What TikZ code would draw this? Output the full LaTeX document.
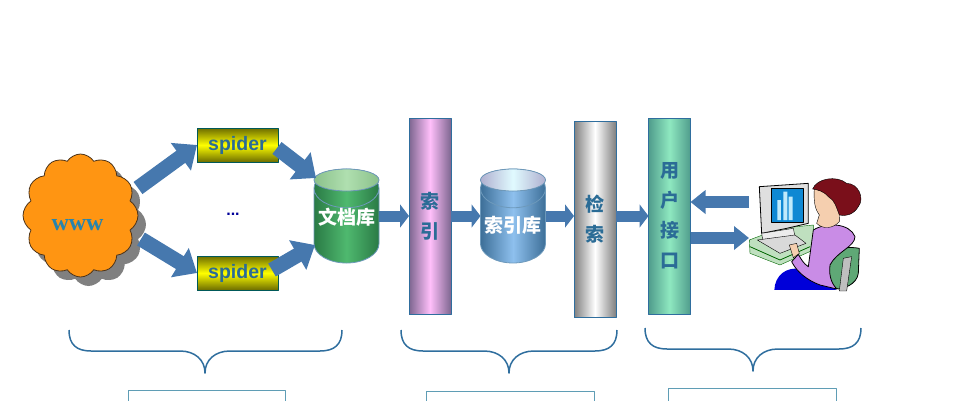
\documentclass[tikz,border=0pt]{standalone}
\usepackage{fontspec}
\newfontfamily\cjk{Noto Sans CJK SC}
\setsansfont{Liberation Sans}
\setmainfont{Liberation Serif}
\usetikzlibrary{arrows.meta,shapes.geometric,shapes.symbols,shadows}
\definecolor{arrowblue}{HTML}{4678AE}
\definecolor{edgeblue}{HTML}{2F6E9E}
\definecolor{labelblue}{HTML}{2B6C96}
\definecolor{boxblue}{HTML}{5F9DB5}
\definecolor{cloudorange}{HTML}{FF9512}
\definecolor{skin}{HTML}{F5CFAF}
\definecolor{blouse}{HTML}{C98CE6}
\definecolor{hair}{HTML}{7A0F1A}
\definecolor{chair}{HTML}{5FA876}
\definecolor{deskgreen}{HTML}{BFE0BF}
\definecolor{docedge}{HTML}{2A7A45}
\definecolor{docmid}{HTML}{4FB96F}
\definecolor{dbedge}{HTML}{3D6F98}
\definecolor{dbmid}{HTML}{8EC0EE}
\definecolor{indexedge}{HTML}{7D6690}
\definecolor{indexmid}{HTML}{FFBFFA}
\definecolor{uiedge}{HTML}{4F9C8C}
\definecolor{uimid}{HTML}{8FE8C0}
\tikzset{
    blockarrow/.style={draw=arrowblue,line width=11pt,-{Triangle[length=9pt,width=23pt]}},
    userarrow/.style={draw=arrowblue,line width=12pt,-{Triangle[length=15pt,width=23pt]}},
    crawlarrow/.style={draw=arrowblue,line width=15pt,-{Triangle[length=20pt,width=33pt]}},
    spiderbox/.style={draw=teal!70!black,thick,minimum width=81pt,minimum height=34pt,top color=olive!85!black,bottom color=olive!85!black,middle color=yellow,font=\sffamily\bfseries\fontsize{19.5}{20}\selectfont,text=labelblue},
    column/.style={draw=edgeblue,thick,minimum width=42pt,minimum height=196pt,font=\cjk\bfseries\fontsize{19}{30}\selectfont,text=labelblue,align=center},
    store/.style={cylinder,shape border rotate=90,aspect=0.68,anchor=shape center,draw=edgeblue!70,thick,minimum width=65pt,minimum height=94pt,font=\cjk\bfseries\fontsize{19}{22}\selectfont,text=white,inner sep=0pt},
    endbox/.style={draw=boxblue,line width=1pt,minimum width=#1,minimum height=50pt},
    bracket/.style={draw=edgeblue,line width=1.5pt}
}
\begin{document}
\begin{tikzpicture}[x=1pt,y=-1pt,line join=round,>=stealth,outer sep=0pt]
    \useasboundingbox (0,0) rectangle (970,400);
    \clip (0,0) rectangle (970,400);
    % crawling
    \node[cloud,cloud puffs=12,cloud puff arc=115,aspect=1,draw=black!60!brown,thick,fill=cloudorange,minimum width=115pt,minimum height=123pt,inner sep=0pt,drop shadow={shadow xshift=8pt,shadow yshift=-9pt,fill=gray,opacity=1}] (www) at (80.5,215.5) {};
    \node[font=\rmfamily\bfseries\fontsize{24}{25}\selectfont,text=edgeblue!85!cyan] (wwwtext) at (77.5,225) {www};
    \node[spiderbox] (spidera) at (237.5,145) {\raisebox{-2pt}{spider}};
    \node[spiderbox] (spiderb) at (237.5,273) {\raisebox{-1pt}{spider}};
    \node[text=blue!60!black,font=\sffamily\bfseries\fontsize{16}{18}\selectfont] (dots) at (233,214) {...};
    \node[store,left color=docedge,right color=docedge,middle color=docmid] (doc) at (346.5,216) {\raisebox{19pt}{文档库}};
    \fill[left color=green!30!gray!70,right color=green!30!gray!70,middle color=green!25!white!75!gray,draw=edgeblue!70,thick] (346.5,180) ellipse (32.5pt and 11pt);
    % indexing
    \node[column,left color=indexedge,right color=indexedge,middle color=indexmid] (index) at (430,216) {索\\引};
    \node[store,left color=dbedge,right color=dbedge,middle color=dbmid] (db) at (513,216) {\raisebox{4pt}{索引库}};
    \fill[left color=blue!25!gray!50,right color=blue!25!gray!50,middle color=blue!15!cyan!12,draw=edgeblue!70,thick] (513,180) ellipse (32.5pt and 11pt);
    \node[column,left color=gray,right color=gray,middle color=white] (search) at (595,219) {检\\索};
    % interface
    \node[column,left color=uiedge,right color=uiedge,middle color=uimid] (ui) at (669.5,216) {用\\户\\接\\口};
    % user at the desk
    \begin{scope}[shift={(680,165)},x=0.3333pt,y=-0.3333pt]
        \fill[deskgreen,draw=green!40!black] (208,225) -- (300,190) -- (400,180) -- (400,255) -- (300,300) -- (210,265) -- cycle;
        \draw[green!40!black,thick] (210,245) -- (300,285) -- (390,245);
        \fill[gray!25,draw=black,thick] (238,65) -- (385,55) -- (385,175) -- (320,190) -- (245,205) -- cycle;
        \fill[gray!15,draw=black] (245,205) -- (340,190) -- (345,215) -- (250,235) -- cycle;
        \fill[gray!30,draw=black] (232,225) -- (345,210) -- (378,235) -- (300,265) -- cycle;
        \fill[cyan!70!blue,draw=black] (275,70) rectangle (370,172);
        \fill[cyan!25] (292,105) rectangle (303,165) (310,80) rectangle (322,165) (326,95) rectangle (338,165);
        \fill[blue!85!black] (283,375) .. controls (285,330) and (320,305) .. (360,312) -- (470,375) -- cycle;
        \fill[chair,draw=black,thick] (430,320) .. controls (435,260) and (480,240) .. (538,250) -- (535,325) .. controls (530,360) and (490,370) .. (475,372) -- (440,360) -- cycle;
        \fill[gray!50,draw=black] (490,280) -- (515,275) -- (500,378) -- (478,378) -- cycle;
        \fill[blouse,draw=black,thick] (400,195) .. controls (440,170) and (510,175) .. (525,215) .. controls (525,245) and (470,260) .. (450,300) .. controls (445,340) and (460,360) .. (470,372) -- (420,360) .. controls (380,345) and (350,320) .. (335,290) -- (355,268) .. controls (365,285) and (370,295) .. (385,305) -- cycle;
        \fill[skin,draw=black] (328,240) -- (350,235) -- (358,265) -- (340,278) -- cycle;
        \fill[skin,draw=black] (403,70) .. controls (400,120) and (408,135) .. (418,150) -- (410,175) .. controls (430,195) and (460,190) .. (478,170) -- (480,100) -- cycle;
        \fill[hair,draw=black] (398,72) .. controls (410,40) and (470,30) .. (500,55) .. controls (535,55) and (555,100) .. (535,125) .. controls (520,150) and (495,155) .. (478,150) .. controls (470,130) and (465,105) .. (445,95) .. controls (430,78) and (415,75) .. (398,72) -- cycle;
    \end{scope}
    % free ends of the arrows
    \coordinate (wwwup) at (138,188);
    \coordinate (wwwdown) at (141,239);
    \coordinate (spideraout) at (277,148);
    \coordinate (spiderbout) at (272,270);
    \coordinate (docup) at (316,178);
    \coordinate (docdown) at (315,245);
    \coordinate (userout) at (749,202);
    \coordinate (userin) at (749,238);
    \draw[crawlarrow] (wwwup) -- (spidera.west);
    \draw[crawlarrow] (wwwdown) -- (spiderb.west);
    \draw[crawlarrow] (spideraout) -- (docup);
    \draw[crawlarrow] (spiderbout) -- (docdown);
    \draw[blockarrow] (doc.east |- index.west) -- (index.west);
    \draw[blockarrow] (index.east) -- (db.west |- index.east);
    \draw[blockarrow] (db.east |- index.east) -- (search.west |- index.east);
    \draw[blockarrow] (search.east |- ui.east) -- (ui.west);
    \draw[userarrow] (userout) -- (ui.east |- userout);
    \draw[userarrow] (ui.east |- userin) -- (userin);
    % braces
    \foreach \xa/\xb/\xm/\yt in {69/342/205/330,401/617/509/330,645/861/753/328}
        \draw[bracket] (\xa,\yt) .. controls (\xa,\yt+15) and (\xa+8,\yt+21) .. (\xa+22,\yt+21) -- (\xm-25,\yt+21) .. controls (\xm-10,\yt+21) and (\xm,\yt+30) .. (\xm,\yt+43) .. controls (\xm,\yt+30) and (\xm+10,\yt+21) .. (\xm+25,\yt+21) -- (\xb-22,\yt+21) .. controls (\xb-8,\yt+21) and (\xb,\yt+15) .. (\xb,\yt);
    \node[endbox=157pt,anchor=north] (boxa) at (206.5,390) {};
    \node[endbox=168pt,anchor=north] (boxb) at (510,391) {};
    \node[endbox=168pt,anchor=north] (boxc) at (752,388) {};
\end{tikzpicture}
\end{document}
